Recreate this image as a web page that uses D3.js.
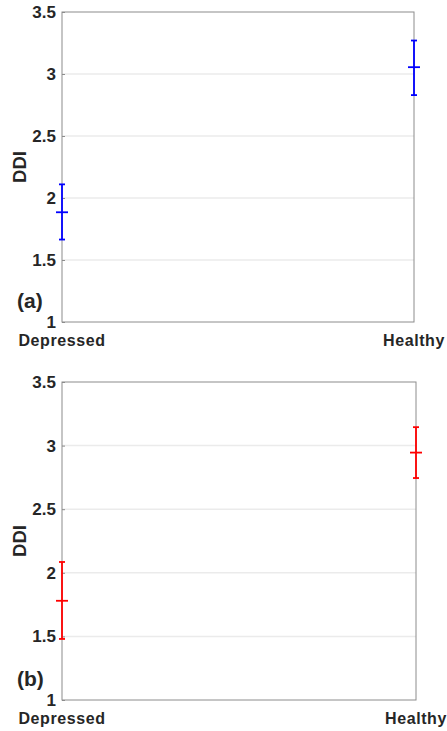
<!DOCTYPE html>
<html>
<head>
<meta charset="utf-8">
<script src="https://cdn.jsdelivr.net/npm/d3@7"></script>
<style>
  body { margin: 0; background: #fff; }
  text { font-family: "Liberation Sans", Arial, sans-serif; font-weight: bold; fill: #262626; }
</style>
</head>
<body>
<div id="chart"></div>
<script>
// Data
const groups = ["Depressed", "Healthy"]
const yTicks = [1, 1.5, 2, 2.5, 3, 3.5]
const yTickLabels = ["1", "1.5", "2", "2.5", "3", "3.5"]

const meanA = [1.885, 3.055]
const lowerA = [1.665, 2.83]
const upperA = [2.11, 3.27]

const meanB = [1.78, 2.945]
const lowerB = [1.48, 2.745]
const upperB = [2.085, 3.145]

const panels = [
  { tag: "(a)", color: "#0000ff", mean: meanA, lower: lowerA, upper: upperA,
    x: 62, y: 12, w: 352, h: 310 },
  { tag: "(b)", color: "#ff0000", mean: meanB, lower: lowerB, upper: upperB,
    x: 62, y: 382, w: 354, h: 318 }
]

const svg = d3.select("#chart")
  .append("svg")
  .attr("width", 447)
  .attr("height", 731)

panels.forEach(p => {
  const ctr = svg.append("g")
    .attr("transform", `translate(${p.x}, ${p.y})`)

  // Scales
  const xScale = d3.scalePoint()
    .domain(groups)
    .range([0, p.w])
    .padding(0)

  const yScale = d3.scaleLinear()
    .domain([1, 3.5])
    .range([p.h, 0])

  // Grid
  ctr.selectAll("line.grid")
    .data(yTicks.slice(1, -1))
    .join("line")
    .attr("class", "grid")
    .attr("x1", 0)
    .attr("x2", p.w)
    .attr("y1", d => yScale(d))
    .attr("y2", d => yScale(d))
    .attr("stroke", "#ebebeb")
    .attr("stroke-width", 1.5)

  // Box
  ctr.append("rect")
    .attr("width", p.w)
    .attr("height", p.h)
    .attr("fill", "none")
    .attr("stroke", "#8c8c8c")
    .attr("stroke-width", 1)

  // Y axis
  const yAxis = d3.axisLeft(yScale)
    .tickValues(yTicks)
    .tickFormat((d, i) => yTickLabels[i])
    .tickSize(-3)
    .tickPadding(6)

  const yAxisGroup = ctr.append("g").call(yAxis)
  yAxisGroup.select(".domain").remove()
  yAxisGroup.selectAll(".tick line").attr("stroke", "#8c8c8c")
  yAxisGroup.selectAll("text")
    .attr("font-size", 17)
    .attr("font-family", null)
    .attr("fill", "#262626")

  // X labels
  ctr.selectAll("text.xlab")
    .data(groups)
    .join("text")
    .attr("class", "xlab")
    .attr("x", d => xScale(d))
    .attr("y", p.h + 24)
    .attr("text-anchor", "middle")
    .attr("font-size", 16)
    .attr("letter-spacing", 0.6)
    .text(d => d)

  // Y label
  ctr.append("text")
    .attr("transform", `translate(-36, ${p.h / 2}) rotate(-90)`)
    .attr("text-anchor", "middle")
    .attr("font-size", 18.5)
    .text("DDI")

  // Panel tag
  ctr.append("text")
    .attr("x", -45)
    .attr("y", p.h - 14)
    .attr("font-size", 21)
    .text(p.tag)

  // Error bars
  const bars = ctr.selectAll("g.bar")
    .data(groups.map((g, i) => ({ g, m: p.mean[i], lo: p.lower[i], hi: p.upper[i] })))
    .join("g")
    .attr("class", "bar")
    .attr("stroke", p.color)
    .attr("stroke-width", 1.8)

  bars.append("line")
    .attr("x1", d => xScale(d.g))
    .attr("x2", d => xScale(d.g))
    .attr("y1", d => yScale(d.lo))
    .attr("y2", d => yScale(d.hi))

  bars.append("line")
    .attr("x1", d => xScale(d.g) - 3)
    .attr("x2", d => xScale(d.g) + 3)
    .attr("y1", d => yScale(d.lo))
    .attr("y2", d => yScale(d.lo))

  bars.append("line")
    .attr("x1", d => xScale(d.g) - 3)
    .attr("x2", d => xScale(d.g) + 3)
    .attr("y1", d => yScale(d.hi))
    .attr("y2", d => yScale(d.hi))

  bars.append("line")
    .attr("x1", d => xScale(d.g) - 6)
    .attr("x2", d => xScale(d.g) + 6)
    .attr("y1", d => yScale(d.m))
    .attr("y2", d => yScale(d.m))
})
</script>
</body>
</html>
